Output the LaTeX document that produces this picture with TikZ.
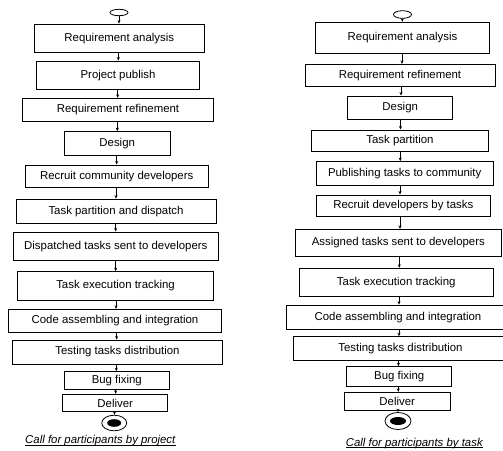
\documentclass[tikz,border=0pt]{standalone}
\usepackage{fontspec}
\setmainfont{Liberation Sans}
\usetikzlibrary{arrows.meta,shapes.geometric}
\tikzset{
  box/.style={draw=black, line width=0.9pt, inner sep=0pt, font=\fontsize{11.4}{13}\selectfont},
  arr/.style={line width=0.7pt, -{Stealth[length=3.5pt,width=3pt]}},
  startst/.style={draw=black, ellipse, line width=0.8pt, inner sep=0pt},
  endin/.style={fill=black, ellipse, inner sep=0pt},
  capt/.style={font=\fontsize{11.4}{13}\selectfont\itshape, inner sep=0pt, anchor=base},
  uline/.style={line width=0.6pt}
}
\newcommand{\bx}[6]{\node[box, minimum width=#4pt, minimum height=#5pt] (#1) at (#2,#3) {#6};}
\begin{document}
\begin{tikzpicture}[x=1pt,y=-1pt]
\useasboundingbox (0,0) rectangle (503,450);
% ---------- left column ----------
\node[startst, minimum width=18pt, minimum height=6.4pt] (ls) at (119,12.5) {};
\bx{la}{119.3}{38.2}{170}{28.3}{Requirement analysis}
\bx{lb}{118}{75.2}{162.6}{28.3}{Project publish}
\bx{lc}{118}{110}{191.4}{23.4}{Requirement refinement}
\bx{ld}{117.2}{143.3}{105.7}{23.3}{Design}
\bx{le}{116.7}{176.3}{183.3}{22.7}{Recruit community developers}
\bx{lf}{116}{211.2}{200}{24.3}{Task partition and dispatch}
\bx{lg}{115.8}{246.3}{205}{28.7}{Dispatched tasks sent to developers}
\bx{lh}{115.5}{285.8}{195.6}{28.3}{Task execution tracking}
\bx{li}{115}{321}{213.4}{23.4}{Code assembling and integration}
\bx{lj}{117.5}{352}{210.4}{24}{Testing tasks distribution}
\bx{lk}{116.8}{380.5}{105}{17.6}{Bug fixing}
\bx{ll}{115.2}{403}{105}{17.4}{Deliver}
\node[startst, minimum width=25pt, minimum height=15.6pt] (le2) at (114.2,423) {};
\node[endin, minimum width=14pt, minimum height=7.6pt] (lei) at (114.2,423) {};
\node[capt] (lcap) at (100.3,443.5) {Call for participants by project};
\draw[uline] ([yshift=-1.4pt]lcap.base west) -- ([yshift=-1.4pt]lcap.base east);
\draw[arr] (119,0 |- ls.south) -- (119,0 |- la.north);
\draw[arr] (118.3,0 |- la.south) -- (118.3,0 |- lb.north);
\draw[arr] (117.7,0 |- lb.south) -- (117.7,0 |- lc.north);
\draw[arr] (117.3,0 |- lc.south) -- (117.3,0 |- ld.north);
\draw[arr] (116.7,0 |- ld.south) -- (116.7,0 |- le.north);
\draw[arr] (116,0 |- le.south) -- (116,0 |- lf.north);
\draw[arr] (115.7,0 |- lf.south) -- (115.7,0 |- lg.north);
\draw[arr] (115.7,0 |- lg.south) -- (115.7,0 |- lh.north);
\draw[arr] (116,0 |- lh.south) -- (116,0 |- li.north);
\draw[arr] (116.7,0 |- li.south) -- (116.7,0 |- lj.north);
\draw[arr] (116.3,0 |- lj.south) -- (116.3,0 |- lk.north);
\draw[arr] (115.7,0 |- lk.south) -- (115.7,0 |- ll.north);
\draw[arr] (114.5,0 |- ll.south) -- (114.5,0 |- le2.north);
% ---------- right column ----------
\node[startst, minimum width=18pt, minimum height=7.6pt] (rs) at (402.5,14.5) {};
\bx{ra}{402.5}{37.8}{173.6}{31}{Requirement analysis}
\bx{rb}{400}{75.2}{190}{21.7}{Requirement refinement}
\bx{rc}{400.2}{107.5}{105}{23}{Design}
\bx{rd}{400}{140.8}{176.6}{21.7}{Task partition}
\bx{re}{404.7}{173.3}{177.3}{23.3}{Publishing tasks to community}
\bx{rf}{403.3}{205.8}{174.7}{21.7}{Recruit developers by tasks}
\bx{rg}{398.3}{242.7}{206.7}{26.7}{Assigned tasks sent to developers}
\bx{rh}{396.2}{282.5}{194.3}{28.4}{Task execution tracking}
\bx{ri}{398}{317.2}{222.6}{24.3}{Code assembling and integration}
\bx{rj}{400.5}{348.3}{214.4}{23.3}{Testing tasks distribution}
\bx{rk}{399.2}{376.7}{105}{20}{Bug fixing}
\bx{rl}{397.2}{401.2}{105.7}{17.7}{Deliver}
\node[startst, minimum width=26pt, minimum height=17pt] (re2) at (398,421) {};
\node[endin, minimum width=16pt, minimum height=8pt] (rei) at (398,421) {};
\node[capt] (rcap) at (414.3,446) {Call for participants by task};
\draw[uline] ([yshift=-1.4pt]rcap.base west) -- ([yshift=-1.4pt]rcap.base east);
\draw[arr] (402.3,0 |- rs.south) -- (402.3,0 |- ra.north);
\draw[arr] (402,0 |- ra.south) -- (402,0 |- rb.north);
\draw[arr] (401,0 |- rb.south) -- (401,0 |- rc.north);
\draw[arr] (400.5,0 |- rc.south) -- (400.5,0 |- rd.north);
\draw[arr] (400.3,0 |- rd.south) -- (400.3,0 |- re.north);
\draw[arr] (400,0 |- re.south) -- (400,0 |- rf.north);
\draw[arr] (400,0 |- rf.south) -- (400,0 |- rg.north);
\draw[arr] (399.3,0 |- rg.south) -- (399.3,0 |- rh.north);
\draw[arr] (399,0 |- rh.south) -- (399,0 |- ri.north);
\draw[arr] (399,0 |- ri.south) -- (399,0 |- rj.north);
\draw[arr] (398.5,0 |- rj.south) -- (398.5,0 |- rk.north);
\draw[arr] (398.3,0 |- rk.south) -- (398.3,0 |- rl.north);
\draw[arr] (398,0 |- rl.south) -- (398,0 |- re2.north);
\end{tikzpicture}
\end{document}
